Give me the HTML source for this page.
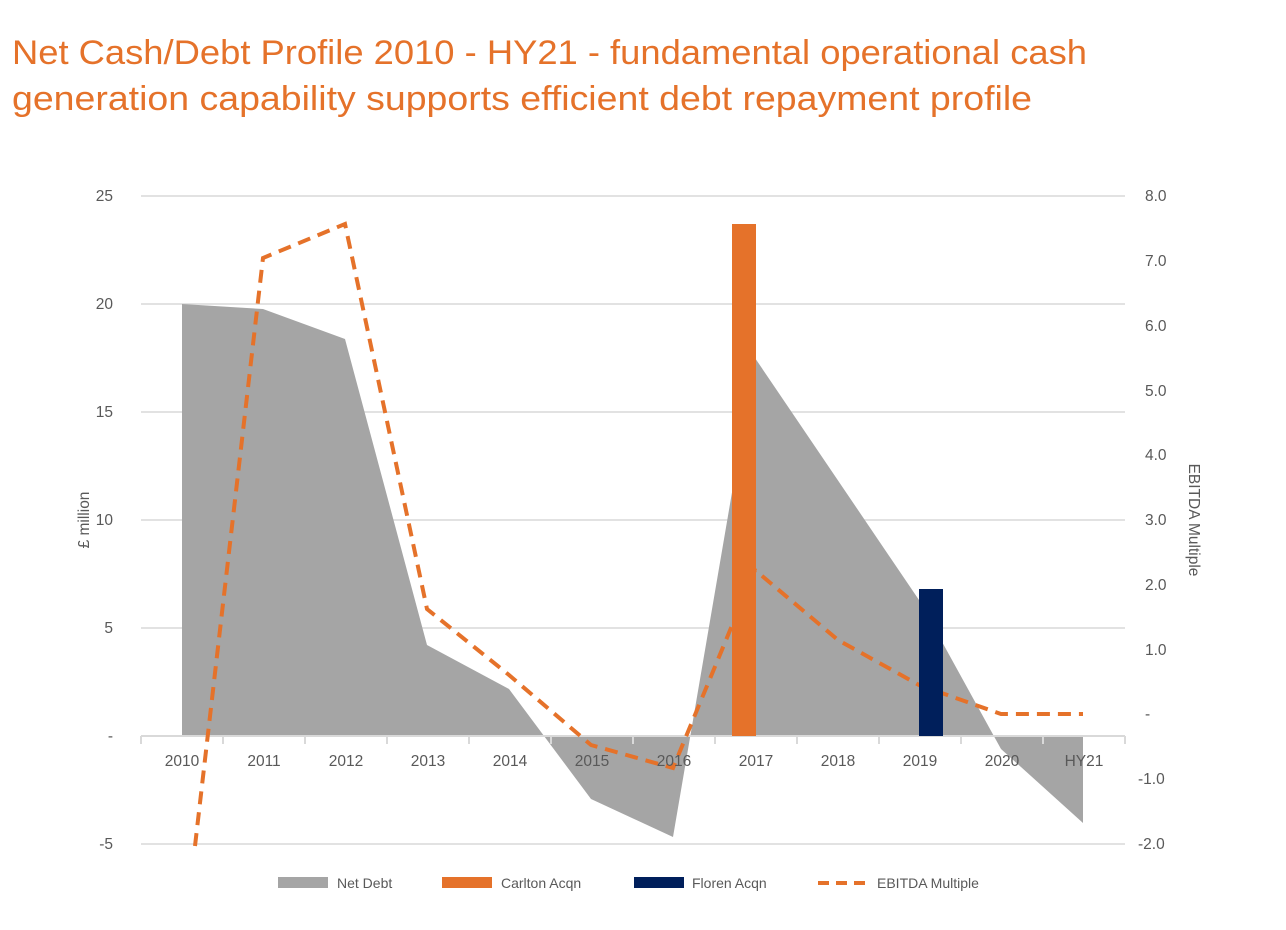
<!DOCTYPE html>
<html><head><meta charset="utf-8"><style>body{margin:0;background:#fff}svg{display:block}</style></head>
<body>
<svg width="1286" height="930" viewBox="0 0 1286 930" xmlns="http://www.w3.org/2000/svg" font-family="'Liberation Sans', sans-serif">
<text x="12" y="64" font-size="34" fill="#E5722A" textLength="1075" lengthAdjust="spacingAndGlyphs">Net Cash/Debt Profile 2010 - HY21 - fundamental operational cash</text>
<text x="12" y="110" font-size="34" fill="#E5722A" textLength="1020" lengthAdjust="spacingAndGlyphs">generation capability supports efficient debt repayment profile</text>
<g stroke="#d9d9d9" stroke-width="1.5">
<line x1="141" y1="196" x2="1125" y2="196"/><line x1="141" y1="304" x2="1125" y2="304"/>
<line x1="141" y1="412" x2="1125" y2="412"/><line x1="141" y1="520" x2="1125" y2="520"/>
<line x1="141" y1="628" x2="1125" y2="628"/><line x1="141" y1="844" x2="1125" y2="844"/>
</g>
<polygon fill="#a5a5a5" points="182,736 182,304 263,309 345,339 427,645 509,689 591,799 673,837 755,358 837,479 919,600 1001,749 1083,823 1083,736"/>
<g stroke="#d9d9d9" stroke-width="2">
<line x1="141" y1="736" x2="1125" y2="736"/>
<line x1="141" y1="736" x2="141" y2="744"/><line x1="223" y1="736" x2="223" y2="744"/><line x1="305" y1="736" x2="305" y2="744"/><line x1="387" y1="736" x2="387" y2="744"/><line x1="469" y1="736" x2="469" y2="744"/><line x1="551" y1="736" x2="551" y2="744"/><line x1="633" y1="736" x2="633" y2="744"/><line x1="715" y1="736" x2="715" y2="744"/><line x1="797" y1="736" x2="797" y2="744"/><line x1="879" y1="736" x2="879" y2="744"/><line x1="961" y1="736" x2="961" y2="744"/><line x1="1043" y1="736" x2="1043" y2="744"/><line x1="1125" y1="736" x2="1125" y2="744"/>
</g>
<polyline fill="none" stroke="#E5722A" stroke-width="4" stroke-dasharray="13,8" points="195,846 263,258 345,224 427,609 509,675 591,745 673,768 755,570 838,640 919,685 1001,714 1083,714"/>
<rect x="732" y="224" width="24" height="512" fill="#E5722A"/>
<rect x="919" y="589" width="24" height="147" fill="#001F5B"/>
<g font-size="15.5" fill="#595959" text-anchor="middle">
<text x="182" y="766">2010</text><text x="264" y="766">2011</text><text x="346" y="766">2012</text><text x="428" y="766">2013</text><text x="510" y="766">2014</text><text x="592" y="766">2015</text><text x="674" y="766">2016</text><text x="756" y="766">2017</text><text x="838" y="766">2018</text><text x="920" y="766">2019</text><text x="1002" y="766">2020</text><text x="1084" y="766">HY21</text>
</g>
<g font-size="15.5" fill="#595959" text-anchor="end">
<text x="113" y="201">25</text><text x="113" y="309">20</text><text x="113" y="417">15</text><text x="113" y="525">10</text><text x="113" y="633">5</text><text x="113" y="741">-</text><text x="113" y="849">-5</text>
</g>
<g font-size="15.5" fill="#595959" text-anchor="start">
<text x="1145" y="201">8.0</text><text x="1145" y="266">7.0</text><text x="1145" y="331">6.0</text><text x="1145" y="396">5.0</text><text x="1145" y="460">4.0</text><text x="1145" y="525">3.0</text><text x="1145" y="590">2.0</text><text x="1145" y="655">1.0</text><text x="1145" y="719">-</text><text x="1138" y="784">-1.0</text><text x="1138" y="849">-2.0</text>
</g>
<text transform="translate(89,520) rotate(-90)" font-size="15.5" fill="#595959" text-anchor="middle">£ million</text>
<text transform="translate(1189,520) rotate(90)" font-size="15.5" fill="#595959" text-anchor="middle">EBITDA Multiple</text>
<rect x="278" y="877" width="50" height="11" fill="#a5a5a5"/>
<text x="337" y="888" font-size="14" fill="#595959">Net Debt</text>
<rect x="442" y="877" width="50" height="11" fill="#E5722A"/>
<text x="501" y="888" font-size="14" fill="#595959">Carlton Acqn</text>
<rect x="634" y="877" width="50" height="11" fill="#001F5B"/>
<text x="692" y="888" font-size="14" fill="#595959">Floren Acqn</text>
<line x1="818" y1="883" x2="868" y2="883" stroke="#E5722A" stroke-width="4" stroke-dasharray="11,7"/>
<text x="877" y="888" font-size="14" fill="#595959">EBITDA Multiple</text>
</svg>
</body></html>
